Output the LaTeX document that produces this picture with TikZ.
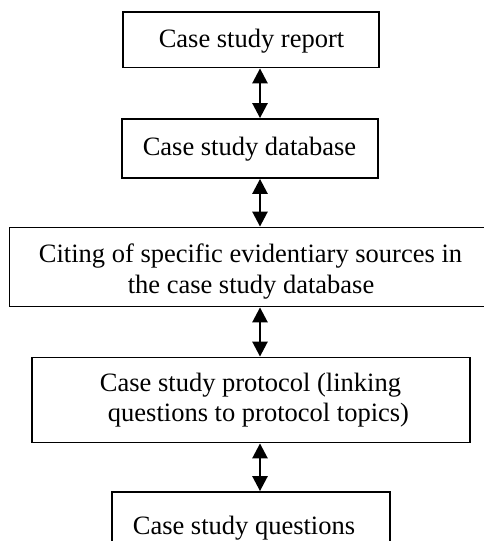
\documentclass[tikz,border=0pt]{standalone}
\usepackage{fontspec}
\setmainfont{Liberation Serif}
\usetikzlibrary{arrows.meta}
\begin{document}
\begin{tikzpicture}[x=1pt,y=-1pt,
  box/.style={draw=black,line width=1.8pt,rectangle,inner sep=0pt,fill=none},
  txt/.style={inner sep=0pt,anchor=base,font=\fontsize{26.5}{31}\selectfont},
  arr/.style={line width=2.6pt,{Triangle[width=15pt,length=15pt]}-{Triangle[width=15pt,length=15pt]}}]
\useasboundingbox[fill=white] (0,0) rectangle (483,541);
% boxes
\node[box,minimum width=256pt,minimum height=55.5pt] (b1) at (251,39.75) {};
\node[box,minimum width=256pt,minimum height=59pt] (b2) at (250,148.5) {};
\node[box,minimum width=481.5pt,minimum height=79pt] (b3) at (250.25,267) {};
\node[box,minimum width=438pt,minimum height=85pt] (b4) at (251,400) {};
\node[box,minimum width=278pt,minimum height=60pt] (b5) at (251,522) {};
% texts
\node[txt] (t1) at (251.5,47) {Case study report};
\node[txt] (t2) at (249.5,155) {Case study database};
\node[txt] (t3a) at (250.5,262) {Citing of specific evidentiary sources in};
\node[txt] (t3b) at (251,293) {the case study database};
\node[txt] (t4a) at (250.5,391) {Case study protocol (linking};
\node[txt] (t4b) at (258.5,421.7) {questions to protocol topics)};
\node[txt] (t5) at (244,534) {Case study questions};
% connectors
\coordinate (ax) at (260,0);
\draw[arr] (b1.south -| ax) -- (b2.north -| ax);
\draw[arr] (b2.south -| ax) -- (b3.north -| ax);
\draw[arr] (b3.south -| ax) -- (b4.north -| ax);
\draw[arr] (b4.south -| ax) -- (b5.north -| ax);
\end{tikzpicture}
\end{document}
